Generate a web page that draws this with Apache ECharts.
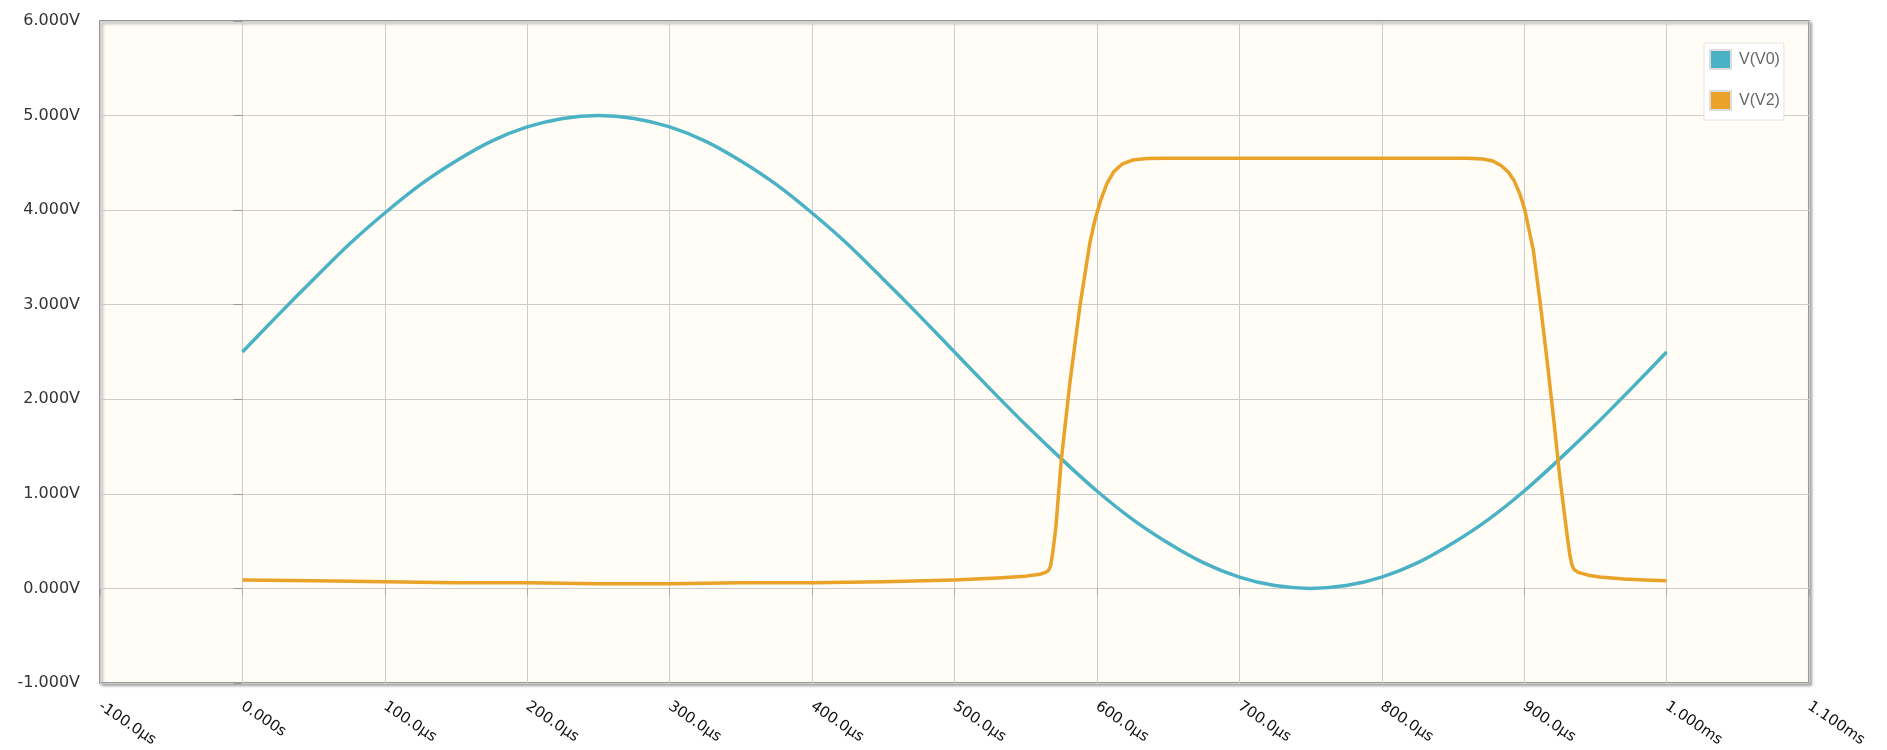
<!DOCTYPE html>
<html>
<head>
<meta charset="utf-8">
<title>V(V0) / V(V2)</title>
<script src="https://cdn.jsdelivr.net/npm/echarts@6/dist/echarts.min.js"></script>
<style>
  html, body { margin: 0; padding: 0; background: #fff; }
  #chart { width: 1887px; height: 750px; }
</style>
</head>
<body>
<div id="chart"></div>
<script>
// time in µs, voltage in V
const seriesNames = ['V(V0)', 'V(V2)']

const v0Time = [0, 25, 50, 75, 100, 125, 150, 175, 200, 225, 250, 275, 300, 325, 350, 375, 400,
  425, 450, 475, 500, 525, 550, 575, 600, 625, 650, 675, 700, 725, 750, 775, 800, 825, 850,
  875, 900, 925, 950, 975, 1000]
const v0Volt = [2.5, 2.89, 3.27, 3.64, 3.97, 4.27, 4.52, 4.73, 4.88, 4.97, 5.0, 4.97, 4.88,
  4.73, 4.52, 4.27, 3.97, 3.64, 3.27, 2.89, 2.5, 2.11, 1.73, 1.37, 1.03, 0.73, 0.48, 0.27,
  0.12, 0.03, 0.0, 0.03, 0.12, 0.27, 0.48, 0.73, 1.03, 1.37, 1.73, 2.11, 2.5]

const v2Time = [0, 50, 100, 150, 200, 250, 300, 350, 400, 450, 500, 530, 550, 560, 564, 566,
  567.5, 569, 571, 575, 581, 588, 595, 599, 603, 607, 612, 618, 625, 635, 650, 700, 750, 800,
  860, 871, 878, 884, 889, 893, 897, 900.5, 903, 906.4, 911, 916, 920.5, 925, 930, 932, 933.5,
  935, 938, 945, 953, 970, 985, 1000]
const v2Volt = [0.09, 0.08, 0.07, 0.06, 0.06, 0.05, 0.05, 0.06, 0.06, 0.07, 0.09, 0.11, 0.13,
  0.15, 0.17, 0.19, 0.24, 0.38, 0.62, 1.36, 2.17, 2.98, 3.65, 3.92, 4.12, 4.28, 4.41, 4.49,
  4.53, 4.545, 4.55, 4.55, 4.55, 4.55, 4.55, 4.54, 4.52, 4.47, 4.4, 4.31, 4.17, 4.0, 3.82,
  3.58, 3.05, 2.42, 1.82, 1.18, 0.58, 0.36, 0.25, 0.2, 0.17, 0.14, 0.12, 0.1, 0.09, 0.08]

const xTicks = { min: -100, max: 1100, step: 100 }
const yTicks = { min: -1, max: 6, step: 1 }

function pairs(xs, ys) {
  return xs.map((x, i) => [x, ys[i]])
}

// engineering style labels: -100.0µs, 0.000s, 1.000ms
function timeLabel(v) {
  if (Math.abs(v) < 1e-9) return '0.000s'
  if (Math.abs(v) >= 1000) return (v / 1000).toFixed(3) + 'ms'
  return v.toFixed(1) + 'µs'
}

const mychart = echarts.init(document.getElementById('chart'))
mychart.setOption({
  animation: false,
  color: ['#4bb2c5', '#eaa228'],
  grid: {
    left: 100,
    right: 78,
    top: 21,
    bottom: 67,
    show: true,
    backgroundColor: '#fffdf6',
    borderColor: '#999999',
    borderWidth: 2,
    shadowColor: 'rgba(0,0,0,0.3)',
    shadowBlur: 3,
    shadowOffsetX: 2,
    shadowOffsetY: 2,
  },
  legend: {
    orient: 'vertical',
    left: 1704,
    top: 43,
    itemWidth: 21,
    itemHeight: 19,
    itemGap: 20,
    padding: [6, 4, 9, 5],
    backgroundColor: '#ffffff',
    borderColor: '#e4e4e4',
    borderWidth: 1,
    icon: 'rect',
    itemStyle: { borderColor: '#dddddd', borderWidth: 2 },
    textStyle: { color: '#666', fontSize: 16, fontFamily: 'Liberation Sans', padding: [0, 0, 0, 3] },
    data: seriesNames,
  },
  xAxis: {
    type: 'value',
    min: xTicks.min,
    max: xTicks.max,
    interval: xTicks.step,
    axisLine: { show: false },
    axisTick: { show: true, length: 7, lineStyle: { color: '#aaa' } },
    splitLine: { show: true, lineStyle: { color: '#cccccc', width: 1 } },
    axisLabel: {
      rotate: -34,
      margin: 22,
      color: '#111',
      fontSize: 15,
      fontFamily: 'DejaVu Sans',
      formatter: timeLabel,
      showMinLabel: true,
      showMaxLabel: true,
    },
  },
  yAxis: {
    type: 'value',
    min: yTicks.min,
    max: yTicks.max,
    interval: yTicks.step,
    axisLine: { show: false },
    axisTick: { show: true, length: 9, lineStyle: { color: '#999' } },
    splitLine: { show: true, lineStyle: { color: '#cccccc', width: 1 } },
    axisLabel: {
      margin: 20,
      color: '#333',
      fontSize: 16,
      fontFamily: 'DejaVu Sans',
      formatter: (v) => v.toFixed(3) + 'V',
    },
  },
  series: [
    {
      name: seriesNames[0],
      type: 'line',
      data: pairs(v0Time, v0Volt),
      smooth: 0.3,
      showSymbol: false,
      lineStyle: { width: 3.5 },
    },
    {
      name: seriesNames[1],
      type: 'line',
      data: pairs(v2Time, v2Volt),
      showSymbol: false,
      lineStyle: { width: 3.5, join: 'round' },
    },
  ],
})
</script>
</body>
</html>
